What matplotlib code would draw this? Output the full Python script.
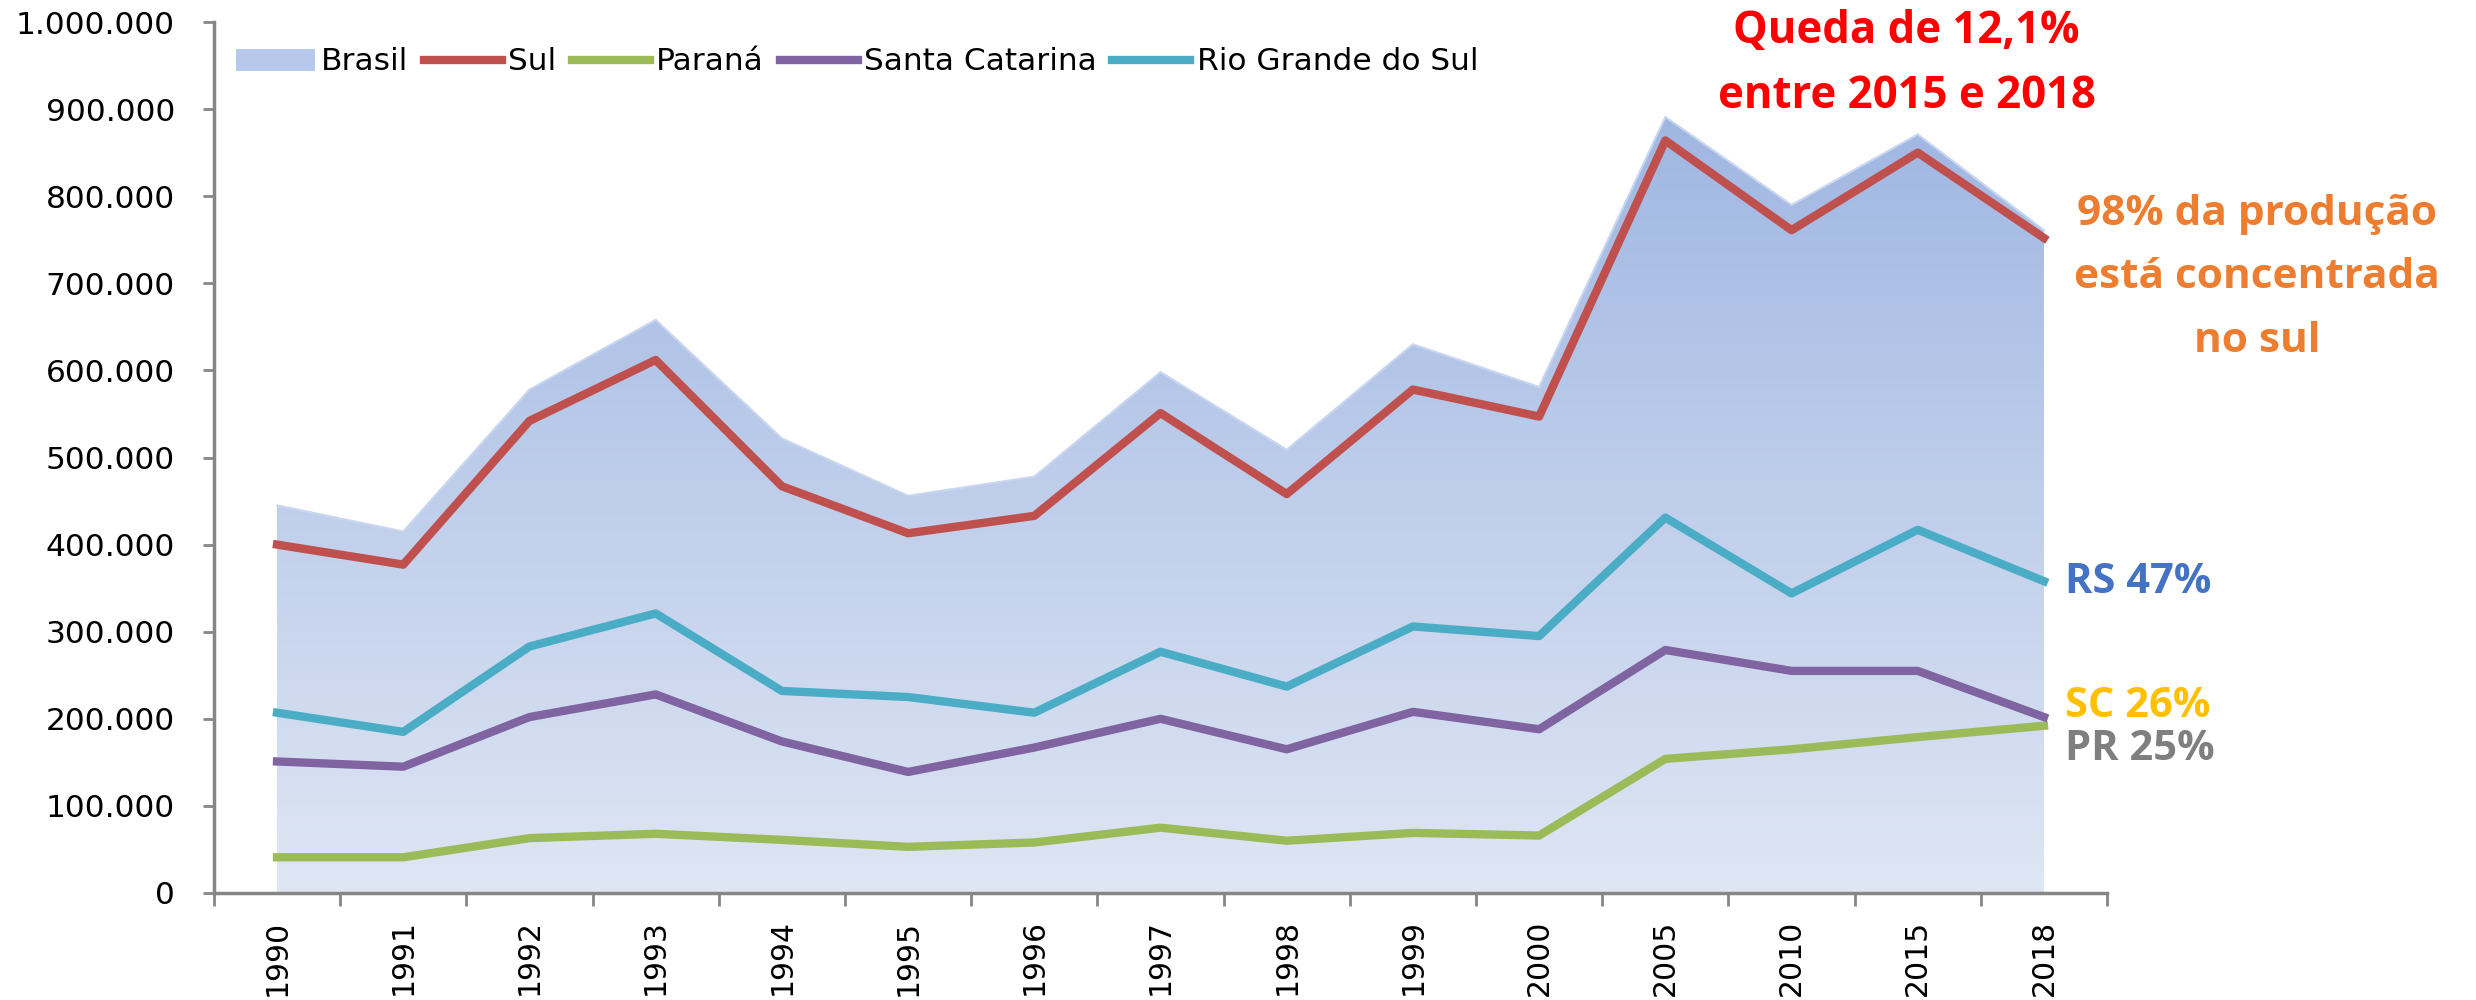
import numpy as np
import matplotlib
matplotlib.use("Agg")
import matplotlib.pyplot as plt
import matplotlib.patches as patches
from matplotlib.colors import LinearSegmentedColormap
from matplotlib.ticker import FuncFormatter, FixedLocator

anos = ["1990", "1991", "1992", "1993", "1994", "1995", "1996", "1997",
        "1998", "1999", "2000", "2005", "2010", "2015", "2018"]

brasil = [445000, 415000, 578000, 658000, 522000, 456000, 478000, 598000,
          509000, 630000, 581000, 891000, 790000, 871000, 761000]
sul = [400000, 377000, 542000, 612000, 467000, 413000, 433000, 551000,
       458000, 578000, 547000, 864000, 761000, 850000, 752000]
parana = [41000, 41000, 63000, 68000, 61000, 53000, 58000, 75000,
          60000, 69000, 66000, 154000, 165000, 179000, 192000]
santa_catarina = [151000, 145000, 202000, 228000, 174000, 139000, 167000, 200000,
                  165000, 208000, 188000, 279000, 255000, 255000, 202000]
rio_grande = [207000, 185000, 283000, 321000, 232000, 225000, 207000, 277000,
              237000, 306000, 295000, 431000, 344000, 417000, 358000]

bold_font = ["Open Sans", "DejaVu Sans"]

fig = plt.figure(figsize=(24.76, 10), dpi=100)
ax = fig.add_axes([0.0864, 0.107, 0.7646, 0.871])

x = np.arange(len(anos))

# area Brasil com gradiente
cmap = LinearSegmentedColormap.from_list("azul", ["#DFE6F4", "#98B1E0"])
grad = np.linspace(0, 1, 256).reshape(-1, 1)
img = ax.imshow(grad, cmap=cmap, origin="lower", aspect="auto",
                extent=[-0.5, len(anos) - 0.5, 0, 1000000], zorder=1)
clip = patches.Polygon(np.column_stack([np.r_[x, x[::-1]],
                                        np.r_[brasil, np.zeros(len(x))]]),
                       closed=True, transform=ax.transData)
img.set_clip_path(clip)
ax.plot(x, brasil, color="#C9D6EF", lw=1.5, zorder=2)

lw = 6
ax.plot(x, sul, color="#C0504D", lw=lw, zorder=3)
ax.plot(x, parana, color="#9BBB59", lw=lw, zorder=3)
ax.plot(x, santa_catarina, color="#8064A2", lw=lw, zorder=3)
ax.plot(x, rio_grande, color="#4BACC6", lw=lw, zorder=3)

ax.set_xlim(-0.5, len(anos) - 0.5)
ax.set_ylim(0, 1000000)

ax.yaxis.set_major_locator(FixedLocator(np.arange(0, 1000001, 100000)))
ax.yaxis.set_major_formatter(FuncFormatter(lambda v, p: f"{int(v):,}".replace(",", ".")))
ax.set_xticks(x)
ax.set_xticklabels(anos, rotation=90, fontsize=21.5, family="DejaVu Sans", va="top")
ax.set_xticks(np.arange(-0.5, len(anos)), minor=True)
ax.tick_params(axis="x", which="major", length=0, pad=19)
ax.tick_params(axis="x", which="minor", length=9, width=2, color="#868686")
ax.tick_params(axis="y", length=8, width=2, color="#868686", pad=20, labelsize=22.5)

for s in ["top", "right"]:
    ax.spines[s].set_visible(False)
for s in ["left", "bottom"]:
    ax.spines[s].set_color("#868686")
    ax.spines[s].set_linewidth(2.5)

handles = [
    patches.Patch(facecolor="#B7C8EA", edgecolor="none", label="Brasil"),
    plt.Line2D([], [], color="#C0504D", lw=lw, label="Sul"),
    plt.Line2D([], [], color="#9BBB59", lw=lw, label="Paraná"),
    plt.Line2D([], [], color="#8064A2", lw=lw, label="Santa Catarina"),
    plt.Line2D([], [], color="#4BACC6", lw=lw, label="Rio Grande do Sul"),
]
fig.legend(handles=handles, ncol=5, loc="center left", bbox_to_anchor=(0.0892, 0.938),
           bbox_transform=fig.transFigure, frameon=False, borderpad=0,
           prop={"family": "DejaVu Sans", "size": 22.5},
           handlelength=2.5, handletextpad=0.2, columnspacing=0.5)

# anotacoes
for txt, yy in [("Queda de 12,1%", 0.957), ("entre 2015 e 2018", 0.892)]:
    fig.text(0.770, yy, txt, color="#FF0000", fontsize=31.5, fontweight="bold",
             family=bold_font, ha="center", va="baseline")
for txt, yy in [("98% da produção", 0.775), ("está concentrada", 0.712), ("no sul", 0.648)]:
    fig.text(0.9117, yy, txt, color="#ED7D31", fontsize=30.5, fontweight="bold",
             family=bold_font, ha="center", va="baseline")
for txt, cor, yy in [("RS 47%", "#4472C4", 0.407), ("SC 26%", "#FFC000", 0.283),
                     ("PR 25%", "#7F7F7F", 0.240)]:
    fig.text(0.834, yy, txt, color=cor, fontsize=30, fontweight="bold",
             family=bold_font, ha="left", va="baseline")

fig.savefig("out.png", dpi=100)
